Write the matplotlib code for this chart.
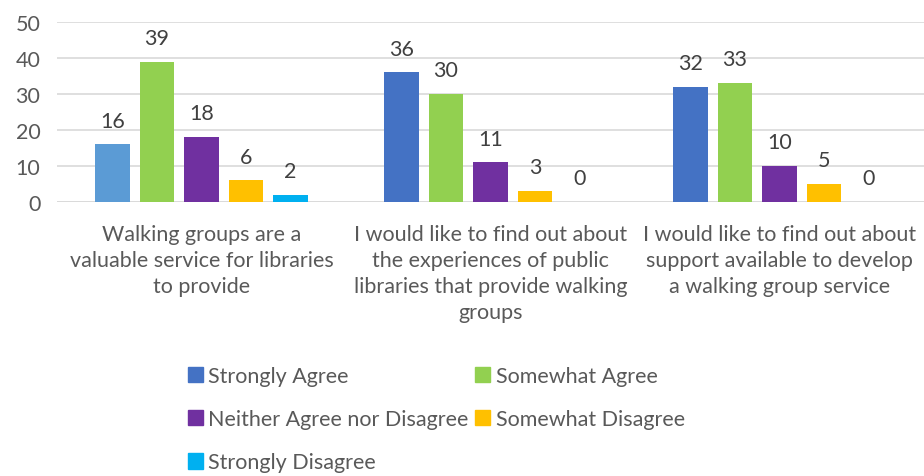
import matplotlib.pyplot as plt
from matplotlib.patches import Patch
import numpy as np

plt.rcParams['font.family'] = ['Lato', 'DejaVu Sans']

categories = [
    "Walking groups are a\nvaluable service for libraries\nto provide",
    "I would like to find out about\nthe experiences of public\nlibraries that provide walking\ngroups",
    "I would like to find out about\nsupport available to develop\na walking group service",
]
series_names = ["Strongly Agree", "Somewhat Agree", "Neither Agree nor Disagree",
                "Somewhat Disagree", "Strongly Disagree"]
strongly_agree = [16, 36, 32]
somewhat_agree = [39, 30, 33]
neither = [18, 11, 10]
somewhat_disagree = [6, 3, 5]
strongly_disagree = [2, 0, 0]

colors = ["#4472C4", "#92D050", "#7030A0", "#FFC000", "#00B0F0"]
first_bar_color = "#5B9BD5"  # first bar in the source is a lighter blue

values = [strongly_agree, somewhat_agree, neither, somewhat_disagree, strongly_disagree]
txt = "#595959"
fs = 15.5

fig = plt.figure(figsize=(9.24, 4.77), dpi=100)
ax = fig.add_axes([57 / 924, 1 - 203 / 477, 1 - 57 / 924, 180 / 477])

x = np.arange(len(categories))
step = 0.154
width = 0.121
for i, (vals, col) in enumerate(zip(values, colors)):
    pos = x + (i - 2) * step
    bar_cols = [col] * len(vals)
    if i == 0:
        bar_cols[0] = first_bar_color
    bars = ax.bar(pos, vals, width, color=bar_cols, zorder=3)
    for b, v in zip(bars, vals):
        ax.annotate(str(v), (b.get_x() + b.get_width() / 2, v), xytext=(0, 10),
                    textcoords="offset points", ha="center", va="bottom",
                    fontsize=fs, color="#404040")

ax.set_xlim(-0.5, 2.5)
ax.set_ylim(0, 50)
ax.set_yticks(range(0, 51, 10))
ax.yaxis.grid(True, color="#D9D9D9", linewidth=1.2, zorder=0)
ax.set_axisbelow(True)
for s in ax.spines.values():
    s.set_visible(False)
ax.axhline(0, color="#D9D9D9", linewidth=1.2, zorder=1)
ax.tick_params(axis="y", length=0, labelsize=fs, labelcolor=txt, pad=12)
ax.set_xticks(x)
ax.set_xticklabels(categories, fontsize=fs, color=txt, linespacing=1.38)
ax.tick_params(axis="x", length=0, pad=16)

handles = [Patch(color=c, label=n) for c, n in zip(colors, series_names)]
order = [0, 2, 4, 1, 3]
fig.legend([handles[k] for k in order], [series_names[k] for k in order],
           ncol=2, loc="upper left", bbox_to_anchor=(188 / 924, 1 - 367 / 477),
           frameon=False, fontsize=fs, labelcolor=txt, handlelength=0.7,
           handleheight=0.7, handletextpad=0.25, labelspacing=1.08,
           columnspacing=0.3, borderpad=0, borderaxespad=0)

fig.savefig("out.png", dpi=100)
